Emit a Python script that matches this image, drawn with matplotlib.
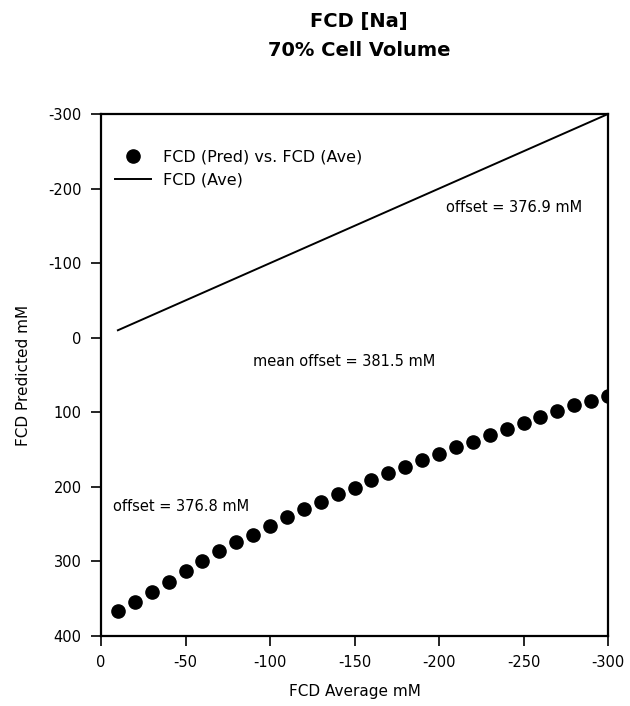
import matplotlib
matplotlib.use("Agg")
import matplotlib.pyplot as plt

plt.rcParams['font.family'] = ['DejaVu Sans']

fcd_ave = [-10, -20, -30, -40, -50, -60, -70, -80, -90, -100,
           -110, -120, -130, -140, -150, -160, -170, -180, -190, -200,
           -210, -220, -230, -240, -250, -260, -270, -280, -290, -300]
fcd_pred = [367, 354, 341, 327, 313, 300, 286, 274, 264, 252,
            241, 230, 220, 209, 201, 191, 182, 173, 164, 156,
            147, 140, 131, 122, 114, 106, 98, 90, 85, 78]
line_x = [-10, -300]
line_y = [-10, -300]

xticks = [0, -50, -100, -150, -200, -250, -300]
yticks = [-300, -200, -100, 0, 100, 200, 300, 400]

fig = plt.figure(figsize=(6.3, 7.06), dpi=100)
L, R, T, B = 101, 608, 114, 636
ax = fig.add_axes([L/630, 1-B/706, (R-L)/630, (B-T)/706])

ax.plot(fcd_ave, fcd_pred, 'o', color='black', markersize=9.5, label='FCD (Pred) vs. FCD (Ave)')
ax.plot(line_x, line_y, '-', color='black', linewidth=1.4, label='FCD (Ave)')

ax.set_xlim(0, -300)
ax.set_ylim(400, -300)
ax.set_xticks(xticks)
ax.set_yticks(yticks)
ax.set_xticklabels([str(t) for t in xticks], fontsize=10.5)
ax.set_yticklabels([str(t) for t in yticks], fontsize=10.5)
ax.tick_params(direction='out', length=7, width=1.2, pad=7)
for s in ax.spines.values():
    s.set_linewidth(1.6)

ax.set_xlabel('FCD Average mM', fontsize=11, labelpad=10)
ax.set_ylabel('FCD Predicted mM', fontsize=11, labelpad=12)

leg = ax.legend(loc='upper left', frameon=False, fontsize=11.5, bbox_to_anchor=(0.0, 0.96),
                handlelength=2.2, labelspacing=0.5)

ax.text(-204, -175, 'offset = 376.9 mM', fontsize=10.5, ha='left', va='center')
ax.text(-90, 32, 'mean offset = 381.5 mM', fontsize=10.5, ha='left', va='center')
ax.text(-7, 226, 'offset = 376.8 mM', fontsize=10.5, ha='left', va='center')

fig.text(359/630, 1-22/706, 'FCD [Na]', fontsize=14, fontweight='bold', ha='center', va='center')
fig.text(359/630, 1-51/706, '70% Cell Volume', fontsize=14, fontweight='bold', ha='center', va='center')

fig.savefig('out.png', dpi=100)
